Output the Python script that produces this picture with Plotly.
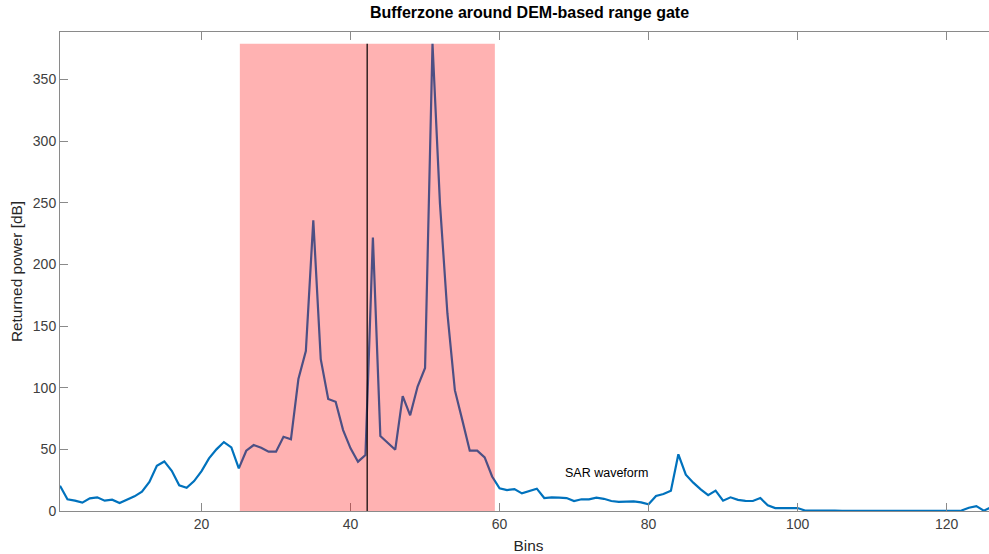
import plotly.graph_objects as go

bins = list(range(1, 127))
power = [
    20.5, 9.5, 8.4, 6.8, 10.3, 11.1, 8.4, 9.2, 6.5, 8.9,
    11.9, 15.6, 23.5, 36.7, 40.2, 32.6, 20.8, 18.9, 24.3, 32.4,
    42.7, 50.0, 55.9, 51.6, 34.6, 48.9, 53.5, 51.3, 48.1, 48.1,
    60.2, 58.1, 107.0, 129.7, 235.8, 123.2, 90.8, 88.6, 65.6, 50.8,
    40.0, 45.4, 221.8, 60.8, 55.2, 49.7, 93.2, 77.6, 101.0, 116.0,
    379.0, 249.3, 160.2, 98.0, 73.7, 48.9, 48.9, 43.5, 28.0, 18.4,
    17.0, 17.8, 14.3, 16.2, 18.1, 10.5, 11.1, 10.8, 10.5, 8.1,
    9.5, 9.5, 10.8, 9.9, 8.1, 7.4, 7.4, 7.8, 7.0, 5.4,
    12.2, 13.8, 16.5, 46.0, 29.5, 23.0, 17.5, 12.8, 16.5, 8.4,
    11.1, 9.0, 8.2, 8.1, 10.5, 4.6, 2.4, 2.2, 2.2, 2.4,
    0.4, 0.5, 0.6, 0.4, 0.3, 0.2, 0.2, 0.3, 0.2, 0.4,
    0.5, 0.6, 0.4, 0.3, 0.2, 0.1, 0.2, 0.3, 0.4, 0.5,
    0.6, 0.4, 2.6, 4.0, 0.3, 3.0,
]

gate_center = 42.23
buffer_start = 25.14
buffer_end = 59.37
x_ticks = [20, 40, 60, 80, 100, 120]
y_ticks = [0, 50, 100, 150, 200, 250, 300, 350]
x_range = [1, 126.77]
y_range = [0, 388.5]

title_text = "Bufferzone around DEM-based range gate"
x_label = "Bins"
y_label = "Returned power [dB]"
annot_text = "SAR waveform"
annot_x = 68.45
annot_y = 30.8

peak = max(power)

fig = go.Figure()
fig.add_trace(go.Scatter(
    x=bins, y=power, mode="lines",
    line=dict(color="#0072BD", width=2.2),
    showlegend=False, hoverinfo="x+y",
))

fig.add_shape(type="rect", xref="x", yref="y",
              x0=buffer_start, x1=buffer_end, y0=0, y1=peak,
              fillcolor="rgb(255,0,0)", opacity=0.3, line=dict(width=0),
              layer="above")
fig.add_shape(type="line", xref="x", yref="y",
              x0=gate_center, x1=gate_center, y0=0, y1=peak,
              line=dict(color="black", width=1.2), layer="above")

fig.add_annotation(x=annot_x, y=annot_y, xref="x", yref="y",
                   text=annot_text, showarrow=False,
                   xanchor="left", yanchor="middle",
                   font=dict(family="Liberation Sans, Arial", size=12.5, color="#000000"))

axis_common = dict(
    showline=True, linecolor="#8a8a8a", linewidth=1, mirror="ticks",
    ticks="inside", ticklen=8, tickwidth=1, tickcolor="#8a8a8a",
    showgrid=False, zeroline=False,
    tickfont=dict(family="Liberation Sans, Arial", size=14, color="#404040"),
)

fig.update_layout(
    width=997, height=554,
    paper_bgcolor="white", plot_bgcolor="white",
    margin=dict(l=60, r=0, t=32, b=43),
    title=dict(text="<b>" + title_text + "</b>", x=529.5 / 997, xanchor="center",
               y=1 - 12 / 554, yanchor="middle", yref="container",
               font=dict(family="Liberation Sans, Arial", size=16, color="#000000")),
    xaxis=dict(range=x_range, tickvals=x_ticks, ticktext=[str(v) for v in x_ticks],
               title=dict(text=x_label, standoff=11,
                          font=dict(family="Liberation Sans, Arial", size=15.4, color="#262626")),
               **axis_common),
    yaxis=dict(range=y_range, tickvals=y_ticks, ticktext=[str(v) for v in y_ticks],
               title=dict(text=y_label, standoff=6,
                          font=dict(family="Liberation Sans, Arial", size=15.4, color="#262626")),
               **axis_common),
)

fig.write_html("out.html", config={"displayModeBar": False},
               post_script="document.body.style.margin='0';document.body.style.overflow='hidden';")
